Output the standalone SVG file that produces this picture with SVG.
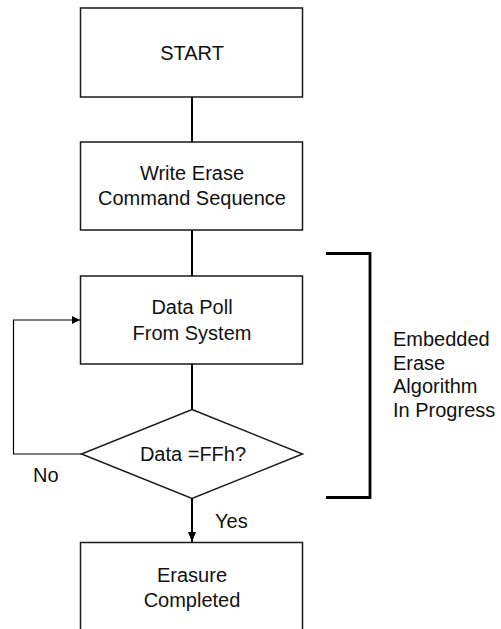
<svg xmlns="http://www.w3.org/2000/svg" width="501" height="629" viewBox="0 0 501 629">
<defs>
<style>
.box{fill:#fff;stroke:#1a1a1a;stroke-width:1.5}
.t{font-family:"Liberation Sans",Arial,sans-serif;font-size:20px;fill:#111}
.c{text-anchor:middle}
.con{fill:none;stroke:#000;stroke-width:2}
.thin{fill:none;stroke:#000;stroke-width:1.2}
.br{fill:none;stroke:#000;stroke-width:2.8}
</style>
<marker id="ah" viewBox="0 0 10 10" refX="10" refY="5" markerWidth="8" markerHeight="8" markerUnits="userSpaceOnUse" orient="auto">
<path d="M0,0 L10,5 L0,10 z" fill="#000"/>
</marker>
<marker id="ah2" viewBox="0 0 10 10" refX="10" refY="5" markerWidth="10" markerHeight="10" markerUnits="userSpaceOnUse" orient="auto">
<path d="M0,1 L10,5 L0,9 z" fill="#000"/>
</marker>
</defs>
<g id="connectors">
<line class="con" x1="192" y1="97" x2="192" y2="142"/>
<line class="con" x1="192" y1="230" x2="192" y2="276"/>
<line class="con" x1="192" y1="364" x2="192" y2="409"/>
<line class="con" x1="192" y1="498" x2="192" y2="542" marker-end="url(#ah2)"/>
<polyline class="thin" points="81,454 13.5,454 13.5,320 80,320" marker-end="url(#ah)"/>
<text class="t" x="33" y="482">No</text>
<text class="t" x="215" y="528">Yes</text>
</g>
<g id="start">
<rect class="box" x="80.5" y="8" width="222" height="89"/>
<text class="t c" x="192" y="60">START</text>
</g>
<g id="write">
<rect class="box" x="80.5" y="142" width="222" height="88"/>
<text class="t c" x="192" y="180">Write Erase</text>
<text class="t c" x="192" y="205">Command Sequence</text>
</g>
<g id="poll">
<rect class="box" x="80.5" y="276" width="222" height="88"/>
<text class="t c" x="192" y="314">Data Poll</text>
<text class="t c" x="192" y="339.5">From System</text>
</g>
<g id="decision">
<polygon class="box" points="192,409.5 302.5,454 192,498.5 81.5,454"/>
<text class="t c" x="193" y="461">Data =FFh?</text>
</g>
<g id="done">
<rect class="box" x="80.5" y="542.5" width="222" height="100"/>
<text class="t c" x="192" y="582">Erasure</text>
<text class="t c" x="192" y="607">Completed</text>
</g>
<g id="bracket">
<polyline class="br" points="326,253.5 370,253.5 370,497.5 326,497.5"/>
<text class="t" x="393" y="346">Embedded</text>
<text class="t" x="393" y="369.5">Erase</text>
<text class="t" x="393" y="393">Algorithm</text>
<text class="t" x="393" y="416.5">In Progress</text>
</g>
</svg>
